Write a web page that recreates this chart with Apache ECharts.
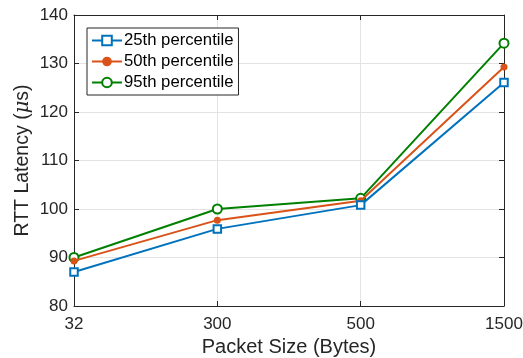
<!DOCTYPE html>
<html><head><meta charset="utf-8">
<script src="https://cdn.jsdelivr.net/npm/echarts@6/dist/echarts.min.js"></script>
<style>html,body{margin:0;padding:0;background:#fff}#c{width:523px;height:358px}</style>
</head><body><div id="c"></div>
<script>
const categories = ['32', '300', '500', '1500'];
const p25 = [87, 95.9, 100.8, 126.1];
const p50 = [89.3, 97.7, 101.7, 129.3];
const p95 = [90, 100, 102.2, 134.2];
const yTicks = {min: 80, max: 140, interval: 10};

const FONT = 'Liberation Sans';
const AX = '#262626';
const chart = echarts.init(document.getElementById('c'));
const axisCommon = {
  axisLine: {show: true, lineStyle: {color: AX, width: 1}},
  axisTick: {show: true, inside: true, length: 5, lineStyle: {color: AX}},
};
chart.setOption({
  animation: false,
  textStyle: {fontFamily: FONT},
  grid: {left: 74, right: 19, top: 15, bottom: 52, containLabel: false, outerBoundsMode: 'none'},
  legend: {
    orient: 'vertical', left: 87, top: 28,
    backgroundColor: '#fff', borderColor: AX, borderWidth: 1,
    padding: [4, 5, 4, 4], itemWidth: 30, itemHeight: 12, itemGap: 4,
    textStyle: {fontFamily: FONT, fontSize: 16.7, lineHeight: 14, color: '#000', padding: [0, 0, 0, -3]},
    data: ['25th percentile', '50th percentile', '95th percentile']
  },
  xAxis: [{
    type: 'category', data: categories, boundaryGap: false,
    ...axisCommon,
    axisLabel: {fontSize: 17, color: AX, margin: 10, fontFamily: FONT},
    splitLine: {show: true, lineStyle: {color: '#e3e3e3'}},
    name: 'Packet Size (Bytes)', nameLocation: 'middle', nameGap: 31, nameMoveOverlap: false,
    nameTextStyle: {fontSize: 20, color: AX, fontFamily: FONT}
  }, {
    type: 'category', data: categories, boundaryGap: false, position: 'top',
    ...axisCommon, axisLabel: {show: false}, splitLine: {show: false}
  }],
  yAxis: [{
    type: 'value', min: yTicks.min, max: yTicks.max, interval: yTicks.interval,
    ...axisCommon,
    axisLabel: {fontSize: 17, color: AX, margin: 6, fontFamily: FONT},
    splitLine: {show: true, lineStyle: {color: '#e3e3e3'}},
    name: '{a|RTT Latency (}{b|μ}{a|s)}', nameLocation: 'middle', nameGap: 41, nameMoveOverlap: false,
    nameTextStyle: {rich: {a: {fontSize: 19.5, color: AX, fontFamily: FONT}, b: {fontSize: 19.5, color: AX, fontStyle: 'italic', fontFamily: 'DejaVu Serif'}}}
  }, {
    type: 'value', min: yTicks.min, max: yTicks.max, interval: yTicks.interval, position: 'right',
    ...axisCommon, axisLabel: {show: false}, splitLine: {show: false}
  }],
  series: [
    {name: '25th percentile', type: 'line', data: p25, color: '#0072BD',
     symbol: 'emptyRect', symbolSize: 7.5, lineStyle: {width: 2}, itemStyle: {borderWidth: 1.5}, z: 3},
    {name: '50th percentile', type: 'line', data: p50, color: '#D95319',
     symbol: 'circle', symbolSize: 7, lineStyle: {width: 2}, z: 2},
    {name: '95th percentile', type: 'line', data: p95, color: '#008000',
     symbol: 'emptyCircle', symbolSize: 9, lineStyle: {width: 2}, itemStyle: {borderWidth: 2}, z: 1}
  ]
});
</script></body></html>
